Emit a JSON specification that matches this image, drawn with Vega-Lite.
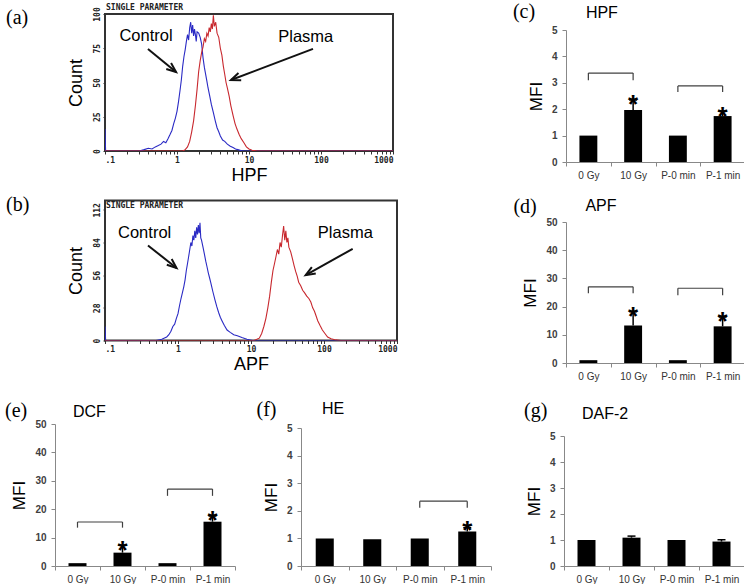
{
  "$schema": "https://vega.github.io/schema/vega-lite/v6.json",
  "padding": {"left": 0, "top": 1, "right": 0, "bottom": 0},
  "background": "white",
  "config": {"view": {"stroke": null}, "font": "Liberation Sans", "axis": {"labelOverlap": false}},
  "datasets": {
    "hist": [
      {"panel":"a","series":"Control","x":0.1,"count":16},{"panel":"a","series":"Control","x":0.102,"count":0},{"panel":"a","series":"Control","x":0.3,"count":0},{"panel":"a","series":"Control","x":0.35,"count":1},{"panel":"a","series":"Control","x":0.4,"count":2},{"panel":"a","series":"Control","x":0.45,"count":1.5},{"panel":"a","series":"Control","x":0.5,"count":3},{"panel":"a","series":"Control","x":0.55,"count":4},{"panel":"a","series":"Control","x":0.6,"count":5},{"panel":"a","series":"Control","x":0.65,"count":7},{"panel":"a","series":"Control","x":0.7,"count":6},{"panel":"a","series":"Control","x":0.75,"count":9},{"panel":"a","series":"Control","x":0.8,"count":12},{"panel":"a","series":"Control","x":0.85,"count":15},{"panel":"a","series":"Control","x":0.9,"count":20},{"panel":"a","series":"Control","x":0.95,"count":24},{"panel":"a","series":"Control","x":1.0,"count":29},{"panel":"a","series":"Control","x":1.05,"count":36},{"panel":"a","series":"Control","x":1.1,"count":44},{"panel":"a","series":"Control","x":1.15,"count":52},{"panel":"a","series":"Control","x":1.2,"count":62},{"panel":"a","series":"Control","x":1.25,"count":69},{"panel":"a","series":"Control","x":1.3,"count":74},{"panel":"a","series":"Control","x":1.35,"count":80},{"panel":"a","series":"Control","x":1.4,"count":85},{"panel":"a","series":"Control","x":1.45,"count":81},{"panel":"a","series":"Control","x":1.5,"count":90},{"panel":"a","series":"Control","x":1.55,"count":94},{"panel":"a","series":"Control","x":1.6,"count":86},{"panel":"a","series":"Control","x":1.65,"count":92},{"panel":"a","series":"Control","x":1.7,"count":84},{"panel":"a","series":"Control","x":1.75,"count":89},{"panel":"a","series":"Control","x":1.8,"count":85},{"panel":"a","series":"Control","x":1.85,"count":80},{"panel":"a","series":"Control","x":1.9,"count":87},{"panel":"a","series":"Control","x":2.0,"count":86},{"panel":"a","series":"Control","x":2.1,"count":83},{"panel":"a","series":"Control","x":2.2,"count":78},{"panel":"a","series":"Control","x":2.3,"count":68},{"panel":"a","series":"Control","x":2.4,"count":61},{"panel":"a","series":"Control","x":2.5,"count":56},{"panel":"a","series":"Control","x":2.6,"count":51},{"panel":"a","series":"Control","x":2.7,"count":46},{"panel":"a","series":"Control","x":2.85,"count":40},{"panel":"a","series":"Control","x":3.0,"count":34},{"panel":"a","series":"Control","x":3.2,"count":28},{"panel":"a","series":"Control","x":3.4,"count":22},{"panel":"a","series":"Control","x":3.6,"count":17},{"panel":"a","series":"Control","x":3.8,"count":14},{"panel":"a","series":"Control","x":4.0,"count":11},{"panel":"a","series":"Control","x":4.3,"count":8},{"panel":"a","series":"Control","x":4.6,"count":7},{"panel":"a","series":"Control","x":5.0,"count":5},{"panel":"a","series":"Control","x":5.5,"count":3.5},{"panel":"a","series":"Control","x":6.0,"count":2.5},{"panel":"a","series":"Control","x":6.5,"count":1.5},{"panel":"a","series":"Control","x":7.0,"count":1},{"panel":"a","series":"Control","x":7.7,"count":0.3},{"panel":"a","series":"Control","x":8.5,"count":0},{"panel":"a","series":"Control","x":1000,"count":0},
      {"panel":"a","series":"Plasma","x":0.1,"count":0},{"panel":"a","series":"Plasma","x":1.2,"count":0},{"panel":"a","series":"Plasma","x":1.3,"count":1},{"panel":"a","series":"Plasma","x":1.4,"count":3},{"panel":"a","series":"Plasma","x":1.5,"count":7},{"panel":"a","series":"Plasma","x":1.6,"count":14},{"panel":"a","series":"Plasma","x":1.7,"count":22},{"panel":"a","series":"Plasma","x":1.8,"count":33},{"panel":"a","series":"Plasma","x":1.9,"count":45},{"panel":"a","series":"Plasma","x":2.0,"count":58},{"panel":"a","series":"Plasma","x":2.1,"count":66},{"panel":"a","series":"Plasma","x":2.2,"count":72},{"panel":"a","series":"Plasma","x":2.3,"count":76},{"panel":"a","series":"Plasma","x":2.4,"count":82},{"panel":"a","series":"Plasma","x":2.5,"count":80},{"panel":"a","series":"Plasma","x":2.6,"count":86},{"panel":"a","series":"Plasma","x":2.7,"count":84},{"panel":"a","series":"Plasma","x":2.8,"count":90},{"panel":"a","series":"Plasma","x":2.9,"count":87},{"panel":"a","series":"Plasma","x":3.0,"count":93},{"panel":"a","series":"Plasma","x":3.1,"count":89},{"panel":"a","series":"Plasma","x":3.2,"count":99},{"panel":"a","series":"Plasma","x":3.3,"count":91},{"panel":"a","series":"Plasma","x":3.45,"count":94},{"panel":"a","series":"Plasma","x":3.6,"count":86},{"panel":"a","series":"Plasma","x":3.8,"count":83},{"panel":"a","series":"Plasma","x":4.0,"count":75},{"panel":"a","series":"Plasma","x":4.2,"count":70},{"panel":"a","series":"Plasma","x":4.4,"count":62},{"panel":"a","series":"Plasma","x":4.6,"count":56},{"panel":"a","series":"Plasma","x":4.8,"count":50},{"panel":"a","series":"Plasma","x":5.0,"count":46},{"panel":"a","series":"Plasma","x":5.3,"count":40},{"panel":"a","series":"Plasma","x":5.6,"count":33},{"panel":"a","series":"Plasma","x":6.0,"count":26},{"panel":"a","series":"Plasma","x":6.4,"count":20},{"panel":"a","series":"Plasma","x":6.8,"count":16},{"panel":"a","series":"Plasma","x":7.3,"count":12},{"panel":"a","series":"Plasma","x":7.8,"count":9},{"panel":"a","series":"Plasma","x":8.5,"count":6},{"panel":"a","series":"Plasma","x":9.2,"count":3},{"panel":"a","series":"Plasma","x":10,"count":1.5},{"panel":"a","series":"Plasma","x":11,"count":0.5},{"panel":"a","series":"Plasma","x":13,"count":0},{"panel":"a","series":"Plasma","x":1000,"count":0},
      {"panel":"b","series":"Control","x":0.1,"count":12},{"panel":"b","series":"Control","x":0.102,"count":0},{"panel":"b","series":"Control","x":0.5,"count":0},{"panel":"b","series":"Control","x":0.6,"count":1},{"panel":"b","series":"Control","x":0.7,"count":3},{"panel":"b","series":"Control","x":0.75,"count":5},{"panel":"b","series":"Control","x":0.8,"count":8},{"panel":"b","series":"Control","x":0.85,"count":12},{"panel":"b","series":"Control","x":0.9,"count":14},{"panel":"b","series":"Control","x":0.95,"count":19},{"panel":"b","series":"Control","x":1.0,"count":23},{"panel":"b","series":"Control","x":1.05,"count":30},{"panel":"b","series":"Control","x":1.1,"count":36},{"panel":"b","series":"Control","x":1.15,"count":41},{"panel":"b","series":"Control","x":1.2,"count":46},{"panel":"b","series":"Control","x":1.25,"count":52},{"panel":"b","series":"Control","x":1.3,"count":60},{"panel":"b","series":"Control","x":1.35,"count":66},{"panel":"b","series":"Control","x":1.4,"count":72},{"panel":"b","series":"Control","x":1.45,"count":78},{"panel":"b","series":"Control","x":1.5,"count":84},{"panel":"b","series":"Control","x":1.55,"count":81},{"panel":"b","series":"Control","x":1.6,"count":90},{"panel":"b","series":"Control","x":1.65,"count":86},{"panel":"b","series":"Control","x":1.7,"count":94},{"panel":"b","series":"Control","x":1.75,"count":88},{"panel":"b","series":"Control","x":1.8,"count":97},{"panel":"b","series":"Control","x":1.85,"count":91},{"panel":"b","series":"Control","x":1.9,"count":99},{"panel":"b","series":"Control","x":1.95,"count":92},{"panel":"b","series":"Control","x":2.0,"count":101},{"panel":"b","series":"Control","x":2.05,"count":88},{"panel":"b","series":"Control","x":2.1,"count":86},{"panel":"b","series":"Control","x":2.2,"count":80},{"panel":"b","series":"Control","x":2.3,"count":74},{"panel":"b","series":"Control","x":2.4,"count":68},{"panel":"b","series":"Control","x":2.5,"count":63},{"panel":"b","series":"Control","x":2.6,"count":58},{"panel":"b","series":"Control","x":2.7,"count":54},{"panel":"b","series":"Control","x":2.8,"count":50},{"panel":"b","series":"Control","x":2.9,"count":46},{"panel":"b","series":"Control","x":3.0,"count":42},{"panel":"b","series":"Control","x":3.2,"count":35},{"panel":"b","series":"Control","x":3.4,"count":29},{"panel":"b","series":"Control","x":3.6,"count":24},{"panel":"b","series":"Control","x":3.8,"count":20},{"panel":"b","series":"Control","x":4.0,"count":17},{"panel":"b","series":"Control","x":4.3,"count":13},{"panel":"b","series":"Control","x":4.7,"count":9},{"panel":"b","series":"Control","x":5.2,"count":7},{"panel":"b","series":"Control","x":5.8,"count":5},{"panel":"b","series":"Control","x":6.5,"count":4},{"panel":"b","series":"Control","x":7.5,"count":2.5},{"panel":"b","series":"Control","x":8.8,"count":1},{"panel":"b","series":"Control","x":10.5,"count":0},{"panel":"b","series":"Control","x":1000,"count":0},
      {"panel":"b","series":"Plasma","x":0.1,"count":0},{"panel":"b","series":"Plasma","x":11,"count":0},{"panel":"b","series":"Plasma","x":12,"count":1},{"panel":"b","series":"Plasma","x":13,"count":2},{"panel":"b","series":"Plasma","x":14,"count":6},{"panel":"b","series":"Plasma","x":15,"count":12},{"panel":"b","series":"Plasma","x":16,"count":19},{"panel":"b","series":"Plasma","x":17,"count":28},{"panel":"b","series":"Plasma","x":18,"count":38},{"panel":"b","series":"Plasma","x":19,"count":50},{"panel":"b","series":"Plasma","x":20,"count":60},{"panel":"b","series":"Plasma","x":21,"count":66},{"panel":"b","series":"Plasma","x":22,"count":72},{"panel":"b","series":"Plasma","x":23,"count":78},{"panel":"b","series":"Plasma","x":24,"count":74},{"panel":"b","series":"Plasma","x":25,"count":84},{"panel":"b","series":"Plasma","x":26,"count":80},{"panel":"b","series":"Plasma","x":27,"count":90},{"panel":"b","series":"Plasma","x":28,"count":98},{"panel":"b","series":"Plasma","x":29,"count":86},{"panel":"b","series":"Plasma","x":30,"count":94},{"panel":"b","series":"Plasma","x":31,"count":84},{"panel":"b","series":"Plasma","x":32,"count":88},{"panel":"b","series":"Plasma","x":33,"count":80},{"panel":"b","series":"Plasma","x":35,"count":76},{"panel":"b","series":"Plasma","x":37,"count":70},{"panel":"b","series":"Plasma","x":39,"count":64},{"panel":"b","series":"Plasma","x":41,"count":59},{"panel":"b","series":"Plasma","x":43,"count":55},{"panel":"b","series":"Plasma","x":45,"count":50},{"panel":"b","series":"Plasma","x":48,"count":47},{"panel":"b","series":"Plasma","x":51,"count":43},{"panel":"b","series":"Plasma","x":54,"count":41},{"panel":"b","series":"Plasma","x":58,"count":38},{"panel":"b","series":"Plasma","x":62,"count":36},{"panel":"b","series":"Plasma","x":66,"count":33},{"panel":"b","series":"Plasma","x":70,"count":28},{"panel":"b","series":"Plasma","x":74,"count":25},{"panel":"b","series":"Plasma","x":78,"count":21},{"panel":"b","series":"Plasma","x":82,"count":17},{"panel":"b","series":"Plasma","x":88,"count":13},{"panel":"b","series":"Plasma","x":95,"count":9},{"panel":"b","series":"Plasma","x":103,"count":6},{"panel":"b","series":"Plasma","x":112,"count":3},{"panel":"b","series":"Plasma","x":125,"count":1.5},{"panel":"b","series":"Plasma","x":145,"count":0.5},{"panel":"b","series":"Plasma","x":170,"count":0},{"panel":"b","series":"Plasma","x":1000,"count":0}
    ],
    "arrows": [
      {"panel":"a","series":"Control","x":0.395,"count":74.5,"x2":0.97,"count2":57.7},
      {"panel":"a","series":"Plasma","x":77.4,"count":74.5,"x2":5.62,"count2":51.8},
      {"panel":"b","series":"Control","x":0.388,"count":81.4,"x2":0.954,"count2":62.2},
      {"panel":"b","series":"Plasma","x":247,"count":78.6,"x2":56.1,"count2":56}
    ],
    "callouts": [
      {"panel":"a","label":"Control","x":0.371,"count":84},
      {"panel":"a","label":"Plasma","x":61.4,"count":83},
      {"panel":"b","label":"Control","x":0.349,"count":92.5},
      {"panel":"b","label":"Plasma","x":196,"count":92.5}
    ],
    "tags": [
      {"panel":"a","tag":"(a)","name":"SINGLE PARAMETER"},
      {"panel":"b","tag":"(b)","name":"SINGLE PARAMETER"},
      {"panel":"c","tag":"(c)","name":"HPF"},
      {"panel":"d","tag":"(d)","name":"APF"},
      {"panel":"e","tag":"(e)","name":"DCF"},
      {"panel":"f","tag":"(f)","name":"HE"},
      {"panel":"g","tag":"(g)","name":"DAF-2"}
    ],
    "bars": [
      {"panel":"c","cond":"0 Gy","mfi":1,"hi":null},{"panel":"c","cond":"10 Gy","mfi":1.97,"hi":2.35},{"panel":"c","cond":"P-0 min","mfi":1,"hi":null},{"panel":"c","cond":"P-1 min","mfi":1.74,"hi":1.93},
      {"panel":"d","cond":"0 Gy","mfi":1,"hi":null},{"panel":"d","cond":"10 Gy","mfi":13.3,"hi":18.2},{"panel":"d","cond":"P-0 min","mfi":1,"hi":null},{"panel":"d","cond":"P-1 min","mfi":13.0,"hi":16.3},
      {"panel":"e","cond":"0 Gy","mfi":1,"hi":null},{"panel":"e","cond":"10 Gy","mfi":4.7,"hi":7.3},{"panel":"e","cond":"P-0 min","mfi":1,"hi":null},{"panel":"e","cond":"P-1 min","mfi":15.6,"hi":17.6},
      {"panel":"f","cond":"0 Gy","mfi":1.0,"hi":null},{"panel":"f","cond":"10 Gy","mfi":0.97,"hi":null},{"panel":"f","cond":"P-0 min","mfi":1.0,"hi":null},{"panel":"f","cond":"P-1 min","mfi":1.25,"hi":1.39},
      {"panel":"g","cond":"0 Gy","mfi":1.0,"hi":null},{"panel":"g","cond":"10 Gy","mfi":1.09,"hi":1.15},{"panel":"g","cond":"P-0 min","mfi":1.0,"hi":null},{"panel":"g","cond":"P-1 min","mfi":0.94,"hi":1.01}
    ],
    "brackets": [
      {"panel":"c","from":"0 Gy","to":"10 Gy","y":3.37,"end":3.1},
      {"panel":"c","from":"P-0 min","to":"P-1 min","y":2.88,"end":2.65},
      {"panel":"d","from":"0 Gy","to":"10 Gy","y":27.0,"end":24.7},
      {"panel":"d","from":"P-0 min","to":"P-1 min","y":26.5,"end":24.0},
      {"panel":"e","from":"0 Gy","to":"10 Gy","y":15.5,"end":13.5},
      {"panel":"e","from":"P-0 min","to":"P-1 min","y":27.1,"end":24.7},
      {"panel":"f","from":"P-0 min","to":"P-1 min","y":2.35,"end":2.11}
    ],
    "stars": [
      {"panel":"c","cond":"10 Gy","y":2.73},{"panel":"c","cond":"P-1 min","y":2.26},
      {"panel":"d","cond":"10 Gy","y":21.6},{"panel":"d","cond":"P-1 min","y":19.9},
      {"panel":"e","cond":"10 Gy","y":10.6},{"panel":"e","cond":"P-1 min","y":21.1},
      {"panel":"f","cond":"P-1 min","y":1.81}
    ]
  },
  "vconcat": [
    {
      "hconcat": [
        {"width": 1, "height": 1, "data": {"values": []}, "mark": "point"},
        {
          "hconcat": [
            {
              "vconcat": [
                {"width": 1, "height": 1, "data": {"values": []}, "mark": "point"},
                {
                  "vconcat": [
                    {
                      "width": 288, "height": 137,
                      "view": {"stroke": "#333333", "strokeWidth": 2},
                      "resolve": {"axis": {"x": "independent", "y": "independent"}},
                      "layer": [
                        {"data": {"name": "hist"}, "transform": [{"filter": "datum.panel == 'a'"}],
                         "mark": {"type": "line", "strokeWidth": 1.1, "clip": true},
                         "encoding": {
                           "x": {"field": "x", "type": "quantitative", "scale": {"type": "log", "domain": [0.1, 1000]}, "title": "HPF",
                                 "axis": {"values": [0.1,0.2,0.3,0.4,0.5,0.6,0.7,0.8,0.9,1,2,3,4,5,6,7,8,9,10,20,30,40,50,60,70,80,90,100,200,300,400,500,600,700,800,900,1000],
                                          "labelExpr": "datum.value == 0.1 ? '.1' : datum.value == 1 ? '1' : datum.value == 10 ? '10' : datum.value == 100 ? '100' : datum.value == 1000 ? '1000' : ''",
                                          "labelFlush": true, "labelOverlap": false, "labelFont": "DejaVu Sans Mono", "labelFontWeight": "bold", "labelFontSize": 8, "labelColor": "#222222", "labelPadding": 2,
                                          "tickSize": 3, "tickColor": "#333333", "domain": false, "grid": false,
                                          "titleFont": "Liberation Sans", "titleFontSize": 18, "titleFontWeight": "normal", "titleColor": "#000000", "titlePadding": 2}},
                           "y": {"field": "count", "type": "quantitative", "scale": {"domain": [0, 100]}, "title": "Count",
                                 "axis": {"values": [0,25,50,75,100], "labelOverlap": false, "labelAngle": -90, "labelAlign": "center", "labelBaseline": "bottom",
                                          "labelFont": "DejaVu Sans Mono", "labelFontWeight": "bold", "labelFontSize": 8, "labelColor": "#222222", "labelPadding": 2,
                                          "tickSize": 2, "tickColor": "#333333", "domain": false, "grid": false,
                                          "titleFont": "Liberation Sans", "titleFontSize": 18, "titleFontWeight": "normal", "titleColor": "#000000", "titlePadding": 8}},
                           "color": {"field": "series", "type": "nominal", "scale": {"domain": ["Control", "Plasma"], "range": ["#2a2ac4", "#c8282e"]}, "legend": null}
                         }},
                        {"data": {"name": "arrows"}, "transform": [{"filter": "datum.panel == 'a'"}],
                         "mark": {"type": "rule", "strokeWidth": 2, "color": "#111111"},
                         "encoding": {"x": {"field": "x", "type": "quantitative", "axis": null}, "y": {"field": "count", "type": "quantitative", "axis": null}, "x2": {"field": "x2"}, "y2": {"field": "count2"}}},
                        {"data": {"name": "arrows"}, "transform": [{"filter": "datum.panel == 'a' && datum.series == 'Control'"}],
                         "mark": {"type": "point", "shape": "M-2,-0.8L0,0L-2,0.8", "filled": false, "strokeWidth": 2, "color": "#111111", "opacity": 1, "size": 90, "angle": 39},
                         "encoding": {"x": {"field": "x2", "type": "quantitative", "axis": null}, "y": {"field": "count2", "type": "quantitative", "axis": null}}},
                        {"data": {"name": "arrows"}, "transform": [{"filter": "datum.panel == 'a' && datum.series == 'Plasma'"}],
                         "mark": {"type": "point", "shape": "M-2,-0.8L0,0L-2,0.8", "filled": false, "strokeWidth": 2, "color": "#111111", "opacity": 1, "size": 90, "angle": 159},
                         "encoding": {"x": {"field": "x2", "type": "quantitative", "axis": null}, "y": {"field": "count2", "type": "quantitative", "axis": null}}},
                        {"data": {"name": "callouts"}, "transform": [{"filter": "datum.panel == 'a'"}],
                         "mark": {"type": "text", "font": "Liberation Sans", "fontSize": 16.5, "color": "#000000", "baseline": "middle"},
                         "encoding": {"x": {"field": "x", "type": "quantitative", "axis": null}, "y": {"field": "count", "type": "quantitative", "axis": null}, "text": {"field": "label"}}},
                        {"data": {"name": "tags"}, "transform": [{"filter": "datum.panel == 'a'"}],
                         "mark": {"type": "text", "font": "Liberation Serif", "fontSize": 20, "align": "left", "baseline": "middle", "dx": -99, "dy": 3.5, "color": "#000000"},
                         "encoding": {"x": {"datum": 0.1, "type": "quantitative", "axis": null}, "y": {"datum": 100, "type": "quantitative", "axis": null}, "text": {"field": "tag"}}},
                        {"data": {"name": "tags"}, "transform": [{"filter": "datum.panel == 'a'"}],
                         "mark": {"type": "text", "font": "DejaVu Sans Mono", "fontWeight": "bold", "fontSize": 8, "align": "left", "baseline": "middle", "dx": 1, "dy": -6, "color": "#222222"},
                         "encoding": {"x": {"datum": 0.1, "type": "quantitative", "axis": null}, "y": {"datum": 100, "type": "quantitative", "axis": null}, "text": {"field": "name"}}}
                      ]
                    },
                    {
                      "width": 292, "height": 140,
                      "view": {"stroke": "#333333", "strokeWidth": 2},
                      "resolve": {"axis": {"x": "independent", "y": "independent"}},
                      "layer": [
                        {"data": {"name": "hist"}, "transform": [{"filter": "datum.panel == 'b'"}],
                         "mark": {"type": "line", "strokeWidth": 1.1, "clip": true},
                         "encoding": {
                           "x": {"field": "x", "type": "quantitative", "scale": {"type": "log", "domain": [0.1, 1000]}, "title": "APF",
                                 "axis": {"values": [0.1,0.2,0.3,0.4,0.5,0.6,0.7,0.8,0.9,1,2,3,4,5,6,7,8,9,10,20,30,40,50,60,70,80,90,100,200,300,400,500,600,700,800,900,1000],
                                          "labelExpr": "datum.value == 0.1 ? '.1' : datum.value == 1 ? '1' : datum.value == 10 ? '10' : datum.value == 100 ? '100' : datum.value == 1000 ? '1000' : ''",
                                          "labelFlush": true, "labelOverlap": false, "labelFont": "DejaVu Sans Mono", "labelFontWeight": "bold", "labelFontSize": 8, "labelColor": "#222222", "labelPadding": 2,
                                          "tickSize": 3, "tickColor": "#333333", "domain": false, "grid": false,
                                          "titleFont": "Liberation Sans", "titleFontSize": 18, "titleFontWeight": "normal", "titleColor": "#000000", "titlePadding": 2}},
                           "y": {"field": "count", "type": "quantitative", "scale": {"domain": [0, 112]}, "title": "Count",
                                 "axis": {"values": [0,28,56,84,112], "labelOverlap": false, "labelAngle": -90, "labelAlign": "center", "labelBaseline": "bottom",
                                          "labelFont": "DejaVu Sans Mono", "labelFontWeight": "bold", "labelFontSize": 8, "labelColor": "#222222", "labelPadding": 2,
                                          "tickSize": 2, "tickColor": "#333333", "domain": false, "grid": false,
                                          "titleFont": "Liberation Sans", "titleFontSize": 18, "titleFontWeight": "normal", "titleColor": "#000000", "titlePadding": 8}},
                           "color": {"field": "series", "type": "nominal", "scale": {"domain": ["Control", "Plasma"], "range": ["#2a2ac4", "#c8282e"]}, "legend": null}
                         }},
                        {"data": {"name": "arrows"}, "transform": [{"filter": "datum.panel == 'b'"}],
                         "mark": {"type": "rule", "strokeWidth": 2, "color": "#111111"},
                         "encoding": {"x": {"field": "x", "type": "quantitative", "axis": null}, "y": {"field": "count", "type": "quantitative", "axis": null}, "x2": {"field": "x2"}, "y2": {"field": "count2"}}},
                        {"data": {"name": "arrows"}, "transform": [{"filter": "datum.panel == 'b' && datum.series == 'Control'"}],
                         "mark": {"type": "point", "shape": "M-2,-0.8L0,0L-2,0.8", "filled": false, "strokeWidth": 2, "color": "#111111", "opacity": 1, "size": 90, "angle": 40},
                         "encoding": {"x": {"field": "x2", "type": "quantitative", "axis": null}, "y": {"field": "count2", "type": "quantitative", "axis": null}}},
                        {"data": {"name": "arrows"}, "transform": [{"filter": "datum.panel == 'b' && datum.series == 'Plasma'"}],
                         "mark": {"type": "point", "shape": "M-2,-0.8L0,0L-2,0.8", "filled": false, "strokeWidth": 2, "color": "#111111", "opacity": 1, "size": 90, "angle": 149},
                         "encoding": {"x": {"field": "x2", "type": "quantitative", "axis": null}, "y": {"field": "count2", "type": "quantitative", "axis": null}}},
                        {"data": {"name": "callouts"}, "transform": [{"filter": "datum.panel == 'b'"}],
                         "mark": {"type": "text", "font": "Liberation Sans", "fontSize": 16.5, "color": "#000000", "baseline": "middle"},
                         "encoding": {"x": {"field": "x", "type": "quantitative", "axis": null}, "y": {"field": "count", "type": "quantitative", "axis": null}, "text": {"field": "label"}}},
                        {"data": {"name": "tags"}, "transform": [{"filter": "datum.panel == 'b'"}],
                         "mark": {"type": "text", "font": "Liberation Serif", "fontSize": 20, "align": "left", "baseline": "middle", "dx": -99, "dy": -4.5, "color": "#000000"},
                         "encoding": {"x": {"datum": 0.1, "type": "quantitative", "axis": null}, "y": {"datum": 112, "type": "quantitative", "axis": null}, "text": {"field": "tag"}}},
                        {"data": {"name": "tags"}, "transform": [{"filter": "datum.panel == 'b'"}],
                         "mark": {"type": "text", "font": "DejaVu Sans Mono", "fontWeight": "bold", "fontSize": 8, "align": "left", "baseline": "middle", "dx": 1, "dy": -3.5, "color": "#222222"},
                         "encoding": {"x": {"datum": 0.1, "type": "quantitative", "axis": null}, "y": {"datum": 112, "type": "quantitative", "axis": null}, "text": {"field": "name"}}}
                      ]
                    }
                  ],
                  "spacing": 8.5
                }
              ],
              "spacing": 1
            },
            {
              "vconcat": [
                {"width": 1, "height": 1, "data": {"values": []}, "mark": "point"},
                {
                  "vconcat": [
                    {
                      "width": 179, "height": 132,
                      "resolve": {"axis": {"x": "independent", "y": "independent"}},
                      "layer": [
                        {"data": {"name": "bars"}, "transform": [{"filter": "datum.panel == 'c'"}],
                         "mark": {"type": "bar", "color": "#000000", "width": {"band": 0.4}},
                         "encoding": {
                           "x": {"field": "cond", "type": "nominal", "scale": {"domain": ["0 Gy","10 Gy","P-0 min","P-1 min"], "paddingInner": 0, "paddingOuter": 0},
                                 "axis": {"title": null, "labelFont": "Liberation Sans", "labelFontSize": 10, "labelColor": "#333333", "labelPadding": 4, "labelAngle": 0, "tickBand": "extent", "tickSize": 4, "tickColor": "#888888", "domainColor": "#888888", "grid": false}},
                           "y": {"field": "mfi", "type": "quantitative", "scale": {"domain": [0, 5]},
                                 "axis": {"values": [0,1,2,3,4,5], "labelOverlap": false, "title": "MFI", "labelFont": "Liberation Sans", "labelFontWeight": "bold", "labelFontSize": 10, "labelColor": "#404040", "labelPadding": 5, "tickSize": 4, "tickColor": "#888888", "domainColor": "#888888", "grid": false, "titleFont": "Liberation Sans", "titleFontSize": 17, "titleFontWeight": "normal", "titleColor": "#000000", "titlePadding": 6}}
                         }},
                        {"data": {"name": "bars"}, "transform": [{"filter": "datum.panel == 'c' && datum.hi != null"}],
                         "mark": {"type": "rule", "color": "#000000", "strokeWidth": 1.5},
                         "encoding": {"x": {"field": "cond", "type": "nominal", "scale": {"domain": ["0 Gy","10 Gy","P-0 min","P-1 min"], "paddingInner": 0, "paddingOuter": 0}, "axis": null},
                                      "y": {"field": "mfi", "type": "quantitative", "scale": {"domain": [0, 5]}, "axis": null}, "y2": {"field": "hi"}}},
                        {"data": {"name": "bars"}, "transform": [{"filter": "datum.panel == 'c' && datum.hi != null"}],
                         "mark": {"type": "tick", "color": "#000000", "thickness": 1.5, "size": 8, "opacity": 1},
                         "encoding": {"x": {"field": "cond", "type": "nominal", "scale": {"domain": ["0 Gy","10 Gy","P-0 min","P-1 min"], "paddingInner": 0, "paddingOuter": 0}, "axis": null},
                                      "y": {"field": "hi", "type": "quantitative", "scale": {"domain": [0, 5]}, "axis": null}}},
                        {"data": {"name": "brackets"}, "transform": [{"filter": "datum.panel == 'c'"}],
                         "mark": {"type": "rule", "color": "#404040", "strokeWidth": 1.2},
                         "encoding": {"x": {"field": "from", "type": "nominal", "scale": {"domain": ["0 Gy","10 Gy","P-0 min","P-1 min"], "paddingInner": 0, "paddingOuter": 0}, "axis": null}, "x2": {"field": "to"},
                                      "y": {"field": "y", "type": "quantitative", "scale": {"domain": [0, 5]}, "axis": null}}},
                        {"data": {"name": "brackets"}, "transform": [{"filter": "datum.panel == 'c'"}],
                         "mark": {"type": "rule", "color": "#404040", "strokeWidth": 1.2},
                         "encoding": {"x": {"field": "from", "type": "nominal", "scale": {"domain": ["0 Gy","10 Gy","P-0 min","P-1 min"], "paddingInner": 0, "paddingOuter": 0}, "axis": null},
                                      "y": {"field": "y", "type": "quantitative", "scale": {"domain": [0, 5]}, "axis": null}, "y2": {"field": "end"}}},
                        {"data": {"name": "brackets"}, "transform": [{"filter": "datum.panel == 'c'"}],
                         "mark": {"type": "rule", "color": "#404040", "strokeWidth": 1.2},
                         "encoding": {"x": {"field": "to", "type": "nominal", "scale": {"domain": ["0 Gy","10 Gy","P-0 min","P-1 min"], "paddingInner": 0, "paddingOuter": 0}, "axis": null},
                                      "y": {"field": "y", "type": "quantitative", "scale": {"domain": [0, 5]}, "axis": null}, "y2": {"field": "end"}}},
                        {"data": {"name": "stars"}, "transform": [{"filter": "datum.panel == 'c'"}],
                         "mark": {"type": "text", "font": "Liberation Sans", "fontWeight": "bold", "fontSize": 26, "dy": 15, "color": "#000000"},
                         "encoding": {"x": {"field": "cond", "type": "nominal", "scale": {"domain": ["0 Gy","10 Gy","P-0 min","P-1 min"], "paddingInner": 0, "paddingOuter": 0}, "axis": null},
                                      "y": {"field": "y", "type": "quantitative", "scale": {"domain": [0, 5]}, "axis": null}, "text": {"value": "*"}}},
                        {"data": {"name": "tags"}, "transform": [{"filter": "datum.panel == 'c'"}],
                         "mark": {"type": "text", "font": "Liberation Serif", "fontSize": 20, "align": "left", "baseline": "middle", "dx": -75.5, "dy": -18, "color": "#000000"},
                         "encoding": {"x": {"datum": "0 Gy", "type": "nominal", "axis": null}, "y": {"datum": 5, "type": "quantitative", "axis": null}, "text": {"field": "tag"}}},
                        {"data": {"name": "tags"}, "transform": [{"filter": "datum.panel == 'c'"}],
                         "mark": {"type": "text", "font": "Liberation Sans", "fontSize": 16, "align": "left", "baseline": "middle", "dx": -2.5, "dy": -17, "color": "#000000"},
                         "encoding": {"x": {"datum": "0 Gy", "type": "nominal", "axis": null}, "y": {"datum": 5, "type": "quantitative", "axis": null}, "text": {"field": "name"}}}
                      ]
                    },
                    {
                      "width": 179, "height": 141,
                      "resolve": {"axis": {"x": "independent", "y": "independent"}},
                      "layer": [
                        {"data": {"name": "bars"}, "transform": [{"filter": "datum.panel == 'd'"}],
                         "mark": {"type": "bar", "color": "#000000", "width": {"band": 0.4}},
                         "encoding": {
                           "x": {"field": "cond", "type": "nominal", "scale": {"domain": ["0 Gy","10 Gy","P-0 min","P-1 min"], "paddingInner": 0, "paddingOuter": 0},
                                 "axis": {"title": null, "labelFont": "Liberation Sans", "labelFontSize": 10, "labelColor": "#333333", "labelPadding": 4, "labelAngle": 0, "tickBand": "extent", "tickSize": 4, "tickColor": "#888888", "domainColor": "#888888", "grid": false}},
                           "y": {"field": "mfi", "type": "quantitative", "scale": {"domain": [0, 50]},
                                 "axis": {"values": [0,10,20,30,40,50], "labelOverlap": false, "title": "MFI", "labelFont": "Liberation Sans", "labelFontWeight": "bold", "labelFontSize": 10, "labelColor": "#404040", "labelPadding": 5, "tickSize": 4, "tickColor": "#888888", "domainColor": "#888888", "grid": false, "titleFont": "Liberation Sans", "titleFontSize": 17, "titleFontWeight": "normal", "titleColor": "#000000", "titlePadding": 6}}
                         }},
                        {"data": {"name": "bars"}, "transform": [{"filter": "datum.panel == 'd' && datum.hi != null"}],
                         "mark": {"type": "rule", "color": "#000000", "strokeWidth": 1.5},
                         "encoding": {"x": {"field": "cond", "type": "nominal", "scale": {"domain": ["0 Gy","10 Gy","P-0 min","P-1 min"], "paddingInner": 0, "paddingOuter": 0}, "axis": null},
                                      "y": {"field": "mfi", "type": "quantitative", "scale": {"domain": [0, 50]}, "axis": null}, "y2": {"field": "hi"}}},
                        {"data": {"name": "bars"}, "transform": [{"filter": "datum.panel == 'd' && datum.hi != null"}],
                         "mark": {"type": "tick", "color": "#000000", "thickness": 1.5, "size": 8, "opacity": 1},
                         "encoding": {"x": {"field": "cond", "type": "nominal", "scale": {"domain": ["0 Gy","10 Gy","P-0 min","P-1 min"], "paddingInner": 0, "paddingOuter": 0}, "axis": null},
                                      "y": {"field": "hi", "type": "quantitative", "scale": {"domain": [0, 50]}, "axis": null}}},
                        {"data": {"name": "brackets"}, "transform": [{"filter": "datum.panel == 'd'"}],
                         "mark": {"type": "rule", "color": "#404040", "strokeWidth": 1.2},
                         "encoding": {"x": {"field": "from", "type": "nominal", "scale": {"domain": ["0 Gy","10 Gy","P-0 min","P-1 min"], "paddingInner": 0, "paddingOuter": 0}, "axis": null}, "x2": {"field": "to"},
                                      "y": {"field": "y", "type": "quantitative", "scale": {"domain": [0, 50]}, "axis": null}}},
                        {"data": {"name": "brackets"}, "transform": [{"filter": "datum.panel == 'd'"}],
                         "mark": {"type": "rule", "color": "#404040", "strokeWidth": 1.2},
                         "encoding": {"x": {"field": "from", "type": "nominal", "scale": {"domain": ["0 Gy","10 Gy","P-0 min","P-1 min"], "paddingInner": 0, "paddingOuter": 0}, "axis": null},
                                      "y": {"field": "y", "type": "quantitative", "scale": {"domain": [0, 50]}, "axis": null}, "y2": {"field": "end"}}},
                        {"data": {"name": "brackets"}, "transform": [{"filter": "datum.panel == 'd'"}],
                         "mark": {"type": "rule", "color": "#404040", "strokeWidth": 1.2},
                         "encoding": {"x": {"field": "to", "type": "nominal", "scale": {"domain": ["0 Gy","10 Gy","P-0 min","P-1 min"], "paddingInner": 0, "paddingOuter": 0}, "axis": null},
                                      "y": {"field": "y", "type": "quantitative", "scale": {"domain": [0, 50]}, "axis": null}, "y2": {"field": "end"}}},
                        {"data": {"name": "stars"}, "transform": [{"filter": "datum.panel == 'd'"}],
                         "mark": {"type": "text", "font": "Liberation Sans", "fontWeight": "bold", "fontSize": 26, "dy": 15, "color": "#000000"},
                         "encoding": {"x": {"field": "cond", "type": "nominal", "scale": {"domain": ["0 Gy","10 Gy","P-0 min","P-1 min"], "paddingInner": 0, "paddingOuter": 0}, "axis": null},
                                      "y": {"field": "y", "type": "quantitative", "scale": {"domain": [0, 50]}, "axis": null}, "text": {"value": "*"}}},
                        {"data": {"name": "tags"}, "transform": [{"filter": "datum.panel == 'd'"}],
                         "mark": {"type": "text", "font": "Liberation Serif", "fontSize": 20, "align": "left", "baseline": "middle", "dx": -75, "dy": -15, "color": "#000000"},
                         "encoding": {"x": {"datum": "0 Gy", "type": "nominal", "axis": null}, "y": {"datum": 50, "type": "quantitative", "axis": null}, "text": {"field": "tag"}}},
                        {"data": {"name": "tags"}, "transform": [{"filter": "datum.panel == 'd'"}],
                         "mark": {"type": "text", "font": "Liberation Sans", "fontSize": 16, "align": "left", "baseline": "middle", "dx": -3, "dy": -15.7, "color": "#000000"},
                         "encoding": {"x": {"datum": "0 Gy", "type": "nominal", "axis": null}, "y": {"datum": 50, "type": "quantitative", "axis": null}, "text": {"field": "name"}}}
                      ]
                    }
                  ],
                  "spacing": 17
                }
              ],
              "spacing": 0
            }
          ],
          "spacing": 113
        }
      ],
      "spacing": 4
    },
    {
      "hconcat": [
        {"width": 1, "height": 1, "data": {"values": []}, "mark": "point"},
        {
          "hconcat": [
            {
              "hconcat": [
                {
                  "vconcat": [
                    {"width": 1, "height": 1, "data": {"values": []}, "mark": "point"},
                    {
                      "width": 180, "height": 142,
                      "resolve": {"axis": {"x": "independent", "y": "independent"}},
                      "layer": [
                        {"data": {"name": "bars"}, "transform": [{"filter": "datum.panel == 'e'"}],
                         "mark": {"type": "bar", "color": "#000000", "width": {"band": 0.4}},
                         "encoding": {
                           "x": {"field": "cond", "type": "nominal", "scale": {"domain": ["0 Gy","10 Gy","P-0 min","P-1 min"], "paddingInner": 0, "paddingOuter": 0},
                                 "axis": {"title": null, "labelFont": "Liberation Sans", "labelFontSize": 10, "labelColor": "#333333", "labelPadding": 4, "labelAngle": 0, "tickBand": "extent", "tickSize": 4, "tickColor": "#888888", "domainColor": "#888888", "grid": false}},
                           "y": {"field": "mfi", "type": "quantitative", "scale": {"domain": [0, 50]},
                                 "axis": {"values": [0,10,20,30,40,50], "labelOverlap": false, "title": "MFI", "labelFont": "Liberation Sans", "labelFontWeight": "bold", "labelFontSize": 10, "labelColor": "#404040", "labelPadding": 5, "tickSize": 4, "tickColor": "#888888", "domainColor": "#888888", "grid": false, "titleFont": "Liberation Sans", "titleFontSize": 17, "titleFontWeight": "normal", "titleColor": "#000000", "titlePadding": 6}}
                         }},
                        {"data": {"name": "bars"}, "transform": [{"filter": "datum.panel == 'e' && datum.hi != null"}],
                         "mark": {"type": "rule", "color": "#000000", "strokeWidth": 1.5},
                         "encoding": {"x": {"field": "cond", "type": "nominal", "scale": {"domain": ["0 Gy","10 Gy","P-0 min","P-1 min"], "paddingInner": 0, "paddingOuter": 0}, "axis": null},
                                      "y": {"field": "mfi", "type": "quantitative", "scale": {"domain": [0, 50]}, "axis": null}, "y2": {"field": "hi"}}},
                        {"data": {"name": "bars"}, "transform": [{"filter": "datum.panel == 'e' && datum.hi != null"}],
                         "mark": {"type": "tick", "color": "#000000", "thickness": 1.5, "size": 8, "opacity": 1},
                         "encoding": {"x": {"field": "cond", "type": "nominal", "scale": {"domain": ["0 Gy","10 Gy","P-0 min","P-1 min"], "paddingInner": 0, "paddingOuter": 0}, "axis": null},
                                      "y": {"field": "hi", "type": "quantitative", "scale": {"domain": [0, 50]}, "axis": null}}},
                        {"data": {"name": "brackets"}, "transform": [{"filter": "datum.panel == 'e'"}],
                         "mark": {"type": "rule", "color": "#404040", "strokeWidth": 1.2},
                         "encoding": {"x": {"field": "from", "type": "nominal", "scale": {"domain": ["0 Gy","10 Gy","P-0 min","P-1 min"], "paddingInner": 0, "paddingOuter": 0}, "axis": null}, "x2": {"field": "to"},
                                      "y": {"field": "y", "type": "quantitative", "scale": {"domain": [0, 50]}, "axis": null}}},
                        {"data": {"name": "brackets"}, "transform": [{"filter": "datum.panel == 'e'"}],
                         "mark": {"type": "rule", "color": "#404040", "strokeWidth": 1.2},
                         "encoding": {"x": {"field": "from", "type": "nominal", "scale": {"domain": ["0 Gy","10 Gy","P-0 min","P-1 min"], "paddingInner": 0, "paddingOuter": 0}, "axis": null},
                                      "y": {"field": "y", "type": "quantitative", "scale": {"domain": [0, 50]}, "axis": null}, "y2": {"field": "end"}}},
                        {"data": {"name": "brackets"}, "transform": [{"filter": "datum.panel == 'e'"}],
                         "mark": {"type": "rule", "color": "#404040", "strokeWidth": 1.2},
                         "encoding": {"x": {"field": "to", "type": "nominal", "scale": {"domain": ["0 Gy","10 Gy","P-0 min","P-1 min"], "paddingInner": 0, "paddingOuter": 0}, "axis": null},
                                      "y": {"field": "y", "type": "quantitative", "scale": {"domain": [0, 50]}, "axis": null}, "y2": {"field": "end"}}},
                        {"data": {"name": "stars"}, "transform": [{"filter": "datum.panel == 'e'"}],
                         "mark": {"type": "text", "font": "Liberation Sans", "fontWeight": "bold", "fontSize": 26, "dy": 15, "color": "#000000"},
                         "encoding": {"x": {"field": "cond", "type": "nominal", "scale": {"domain": ["0 Gy","10 Gy","P-0 min","P-1 min"], "paddingInner": 0, "paddingOuter": 0}, "axis": null},
                                      "y": {"field": "y", "type": "quantitative", "scale": {"domain": [0, 50]}, "axis": null}, "text": {"value": "*"}}},
                        {"data": {"name": "tags"}, "transform": [{"filter": "datum.panel == 'e'"}],
                         "mark": {"type": "text", "font": "Liberation Serif", "fontSize": 20, "align": "left", "baseline": "middle", "dx": -72.5, "dy": -13.3, "color": "#000000"},
                         "encoding": {"x": {"datum": "0 Gy", "type": "nominal", "axis": null}, "y": {"datum": 50, "type": "quantitative", "axis": null}, "text": {"field": "tag"}}},
                        {"data": {"name": "tags"}, "transform": [{"filter": "datum.panel == 'e'"}],
                         "mark": {"type": "text", "font": "Liberation Sans", "fontSize": 16, "align": "left", "baseline": "middle", "dx": -4.5, "dy": -11.8, "color": "#000000"},
                         "encoding": {"x": {"datum": "0 Gy", "type": "nominal", "axis": null}, "y": {"datum": 50, "type": "quantitative", "axis": null}, "text": {"field": "name"}}}
                      ]
                    }
                  ],
                  "spacing": 0
                },
                {
                  "vconcat": [
                    {"width": 1, "height": 1, "data": {"values": []}, "mark": "point"},
                    {
                      "width": 190, "height": 138,
                      "resolve": {"axis": {"x": "independent", "y": "independent"}},
                      "layer": [
                        {"data": {"name": "bars"}, "transform": [{"filter": "datum.panel == 'f'"}],
                         "mark": {"type": "bar", "color": "#000000", "width": {"band": 0.38}},
                         "encoding": {
                           "x": {"field": "cond", "type": "nominal", "scale": {"domain": ["0 Gy","10 Gy","P-0 min","P-1 min"], "paddingInner": 0, "paddingOuter": 0},
                                 "axis": {"title": null, "labelFont": "Liberation Sans", "labelFontSize": 10, "labelColor": "#333333", "labelPadding": 4, "labelAngle": 0, "tickBand": "extent", "tickSize": 4, "tickColor": "#888888", "domainColor": "#888888", "grid": false}},
                           "y": {"field": "mfi", "type": "quantitative", "scale": {"domain": [0, 5]},
                                 "axis": {"values": [0,1,2,3,4,5], "labelOverlap": false, "title": "MFI", "labelFont": "Liberation Sans", "labelFontWeight": "bold", "labelFontSize": 10, "labelColor": "#404040", "labelPadding": 5, "tickSize": 4, "tickColor": "#888888", "domainColor": "#888888", "grid": false, "titleFont": "Liberation Sans", "titleFontSize": 17, "titleFontWeight": "normal", "titleColor": "#000000", "titlePadding": 6}}
                         }},
                        {"data": {"name": "bars"}, "transform": [{"filter": "datum.panel == 'f' && datum.hi != null"}],
                         "mark": {"type": "rule", "color": "#000000", "strokeWidth": 1.5},
                         "encoding": {"x": {"field": "cond", "type": "nominal", "scale": {"domain": ["0 Gy","10 Gy","P-0 min","P-1 min"], "paddingInner": 0, "paddingOuter": 0}, "axis": null},
                                      "y": {"field": "mfi", "type": "quantitative", "scale": {"domain": [0, 5]}, "axis": null}, "y2": {"field": "hi"}}},
                        {"data": {"name": "bars"}, "transform": [{"filter": "datum.panel == 'f' && datum.hi != null"}],
                         "mark": {"type": "tick", "color": "#000000", "thickness": 1.5, "size": 8, "opacity": 1},
                         "encoding": {"x": {"field": "cond", "type": "nominal", "scale": {"domain": ["0 Gy","10 Gy","P-0 min","P-1 min"], "paddingInner": 0, "paddingOuter": 0}, "axis": null},
                                      "y": {"field": "hi", "type": "quantitative", "scale": {"domain": [0, 5]}, "axis": null}}},
                        {"data": {"name": "brackets"}, "transform": [{"filter": "datum.panel == 'f'"}],
                         "mark": {"type": "rule", "color": "#404040", "strokeWidth": 1.2},
                         "encoding": {"x": {"field": "from", "type": "nominal", "scale": {"domain": ["0 Gy","10 Gy","P-0 min","P-1 min"], "paddingInner": 0, "paddingOuter": 0}, "axis": null}, "x2": {"field": "to"},
                                      "y": {"field": "y", "type": "quantitative", "scale": {"domain": [0, 5]}, "axis": null}}},
                        {"data": {"name": "brackets"}, "transform": [{"filter": "datum.panel == 'f'"}],
                         "mark": {"type": "rule", "color": "#404040", "strokeWidth": 1.2},
                         "encoding": {"x": {"field": "from", "type": "nominal", "scale": {"domain": ["0 Gy","10 Gy","P-0 min","P-1 min"], "paddingInner": 0, "paddingOuter": 0}, "axis": null},
                                      "y": {"field": "y", "type": "quantitative", "scale": {"domain": [0, 5]}, "axis": null}, "y2": {"field": "end"}}},
                        {"data": {"name": "brackets"}, "transform": [{"filter": "datum.panel == 'f'"}],
                         "mark": {"type": "rule", "color": "#404040", "strokeWidth": 1.2},
                         "encoding": {"x": {"field": "to", "type": "nominal", "scale": {"domain": ["0 Gy","10 Gy","P-0 min","P-1 min"], "paddingInner": 0, "paddingOuter": 0}, "axis": null},
                                      "y": {"field": "y", "type": "quantitative", "scale": {"domain": [0, 5]}, "axis": null}, "y2": {"field": "end"}}},
                        {"data": {"name": "stars"}, "transform": [{"filter": "datum.panel == 'f'"}],
                         "mark": {"type": "text", "font": "Liberation Sans", "fontWeight": "bold", "fontSize": 26, "dy": 15, "color": "#000000"},
                         "encoding": {"x": {"field": "cond", "type": "nominal", "scale": {"domain": ["0 Gy","10 Gy","P-0 min","P-1 min"], "paddingInner": 0, "paddingOuter": 0}, "axis": null},
                                      "y": {"field": "y", "type": "quantitative", "scale": {"domain": [0, 5]}, "axis": null}, "text": {"value": "*"}}},
                        {"data": {"name": "tags"}, "transform": [{"filter": "datum.panel == 'f'"}],
                         "mark": {"type": "text", "font": "Liberation Serif", "fontSize": 20, "align": "left", "baseline": "middle", "dx": -68.25, "dy": -18, "color": "#000000"},
                         "encoding": {"x": {"datum": "0 Gy", "type": "nominal", "axis": null}, "y": {"datum": 5, "type": "quantitative", "axis": null}, "text": {"field": "tag"}}},
                        {"data": {"name": "tags"}, "transform": [{"filter": "datum.panel == 'f'"}],
                         "mark": {"type": "text", "font": "Liberation Sans", "fontSize": 16, "align": "left", "baseline": "middle", "dx": -2.75, "dy": -19.5, "color": "#000000"},
                         "encoding": {"x": {"datum": "0 Gy", "type": "nominal", "axis": null}, "y": {"datum": 5, "type": "quantitative", "axis": null}, "text": {"field": "name"}}}
                      ]
                    }
                  ],
                  "spacing": 0
                }
              ],
              "spacing": 20
            },
            {
              "vconcat": [
                {"width": 1, "height": 1, "data": {"values": []}, "mark": "point"},
                {
                  "width": 180, "height": 130,
                  "resolve": {"axis": {"x": "independent", "y": "independent"}},
                  "layer": [
                    {"data": {"name": "bars"}, "transform": [{"filter": "datum.panel == 'g'"}],
                     "mark": {"type": "bar", "color": "#000000", "width": {"band": 0.4}},
                     "encoding": {
                       "x": {"field": "cond", "type": "nominal", "scale": {"domain": ["0 Gy","10 Gy","P-0 min","P-1 min"], "paddingInner": 0, "paddingOuter": 0},
                             "axis": {"title": null, "labelFont": "Liberation Sans", "labelFontSize": 10, "labelColor": "#333333", "labelPadding": 4, "labelAngle": 0, "tickBand": "extent", "tickSize": 4, "tickColor": "#888888", "domainColor": "#888888", "grid": false}},
                       "y": {"field": "mfi", "type": "quantitative", "scale": {"domain": [0, 5]},
                             "axis": {"values": [0,1,2,3,4,5], "labelOverlap": false, "title": "MFI", "labelFont": "Liberation Sans", "labelFontWeight": "bold", "labelFontSize": 10, "labelColor": "#404040", "labelPadding": 5, "tickSize": 4, "tickColor": "#888888", "domainColor": "#888888", "grid": false, "titleFont": "Liberation Sans", "titleFontSize": 17, "titleFontWeight": "normal", "titleColor": "#000000", "titlePadding": 6}}
                     }},
                    {"data": {"name": "bars"}, "transform": [{"filter": "datum.panel == 'g' && datum.hi != null"}],
                     "mark": {"type": "rule", "color": "#000000", "strokeWidth": 1.5},
                     "encoding": {"x": {"field": "cond", "type": "nominal", "scale": {"domain": ["0 Gy","10 Gy","P-0 min","P-1 min"], "paddingInner": 0, "paddingOuter": 0}, "axis": null},
                                  "y": {"field": "mfi", "type": "quantitative", "scale": {"domain": [0, 5]}, "axis": null}, "y2": {"field": "hi"}}},
                    {"data": {"name": "bars"}, "transform": [{"filter": "datum.panel == 'g' && datum.hi != null"}],
                     "mark": {"type": "tick", "color": "#000000", "thickness": 1.5, "size": 8, "opacity": 1},
                     "encoding": {"x": {"field": "cond", "type": "nominal", "scale": {"domain": ["0 Gy","10 Gy","P-0 min","P-1 min"], "paddingInner": 0, "paddingOuter": 0}, "axis": null},
                                  "y": {"field": "hi", "type": "quantitative", "scale": {"domain": [0, 5]}, "axis": null}}},
                    {"data": {"name": "tags"}, "transform": [{"filter": "datum.panel == 'g'"}],
                     "mark": {"type": "text", "font": "Liberation Serif", "fontSize": 20, "align": "left", "baseline": "middle", "dx": -62.5, "dy": -25.3, "color": "#000000"},
                     "encoding": {"x": {"datum": "0 Gy", "type": "nominal", "axis": null}, "y": {"datum": 5, "type": "quantitative", "axis": null}, "text": {"field": "tag"}}},
                    {"data": {"name": "tags"}, "transform": [{"filter": "datum.panel == 'g'"}],
                     "mark": {"type": "text", "font": "Liberation Sans", "fontSize": 16, "align": "left", "baseline": "middle", "dx": -4.5, "dy": -22, "color": "#000000"},
                     "encoding": {"x": {"datum": "0 Gy", "type": "nominal", "axis": null}, "y": {"datum": 5, "type": "quantitative", "axis": null}, "text": {"field": "name"}}}
                  ]
                }
              ],
              "spacing": 0
            }
          ],
          "spacing": 32
        }
      ],
      "spacing": 4
    }
  ],
  "spacing": 18
}
